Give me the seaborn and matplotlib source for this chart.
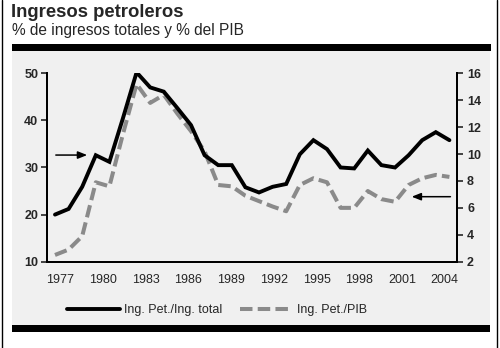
import numpy as np
import matplotlib
matplotlib.use("Agg")
import matplotlib.pyplot as plt
from matplotlib.lines import Line2D
from matplotlib.patches import Rectangle
import pandas as pd
import seaborn as sns

# ---- data -------------------------------------------------------------
years = list(range(1976, 2006))
ing_total = [20.0, 21.2, 25.9, 32.6, 31.2, 40.5, 50.2, 47.0, 46.1, 42.6,
             39.0, 32.6, 30.5, 30.5, 25.8, 24.7, 25.9, 26.5, 32.8, 35.8,
             33.9, 30.0, 29.8, 33.6, 30.5, 30.0, 32.6, 35.8, 37.5, 35.8]
ing_pib = [2.5, 2.9, 3.9, 7.9, 7.6, 11.5, 15.2, 13.8, 14.4, 13.0,
           11.7, 10.2, 7.7, 7.6, 6.9, 6.5, 6.1, 5.75, 7.7, 8.2,
           7.9, 6.0, 6.0, 7.25, 6.65, 6.45, 7.7, 8.2, 8.45, 8.3]
xtick_labels = [1977, 1980, 1983, 1986, 1989, 1992, 1995, 1998, 2001, 2004]
left_ticks = [10, 20, 30, 40, 50]
right_ticks = [2, 4, 6, 8, 10, 12, 14, 16]
title = "Ingresos petroleros"
subtitle = "% de ingresos totales y % del PIB"
label_total = "Ing. Pet./Ing. total"
label_pib = "Ing. Pet./PIB"

df = pd.DataFrame({"year": years, "total": ing_total, "pib": ing_pib})

# ---- style ------------------------------------------------------------
sns.set_style("white")
plt.rcParams["font.family"] = ["Liberation Sans", "DejaVu Sans"]

PANEL = "#f0f0f0"
GRAY = "#8a8a8a"

fig = plt.figure(figsize=(5.0, 3.48), dpi=100)
fig.patch.set_facecolor("white")

# background panel and bars
fig.patches.append(Rectangle((0.024, 0.066), 0.956, 0.787, transform=fig.transFigure,
                             facecolor=PANEL, edgecolor="none", zorder=-10))
fig.patches.append(Rectangle((0.024, 0.8534), 0.958, 0.0201, transform=fig.transFigure,
                             facecolor="black", edgecolor="none", zorder=-5))
fig.patches.append(Rectangle((0.024, 0.046), 0.956, 0.0201, transform=fig.transFigure,
                             facecolor="black", edgecolor="none", zorder=-5))
fig.add_artist(Line2D([0.004, 0.004], [0, 1], transform=fig.transFigure, color="black", lw=1))
fig.add_artist(Line2D([0.994, 0.994], [0, 1], transform=fig.transFigure, color="black", lw=1))

fig.text(0.022, 0.988, title, fontsize=13.3, fontweight="bold", va="top", ha="left")
fig.text(0.023, 0.935, subtitle, fontsize=11.2, va="top", ha="left")

ax = fig.add_axes([0.0946, 0.248, 0.82, 0.5414])
ax2 = ax.twinx()
ax.set_zorder(ax2.get_zorder() + 1)
ax.patch.set_visible(False)
ax2.patch.set_visible(False)

sns.lineplot(data=df, x="year", y="total", ax=ax, color="black", lw=2.8,
             solid_joinstyle="miter")
sns.lineplot(data=df, x="year", y="pib", ax=ax2, color=GRAY, lw=2.9,
             linestyle=(0, (3.1, 1.3)))

xlim = (1975.434, 2005.58)
ax.set_xlim(*xlim)
ax.set_ylim(10, 50)
ax2.set_ylim(2, 16)

# axes appearance
for a in (ax, ax2):
    for s in a.spines.values():
        s.set_linewidth(1.4)
        s.set_color("black")
    a.spines["top"].set_visible(False)
    a.set_xlabel("")
    a.set_ylabel("")

ax.set_yticks(left_ticks)
ax.set_yticklabels([str(t) for t in left_ticks], fontweight="bold", fontsize=9)
ax2.set_yticks(right_ticks)
ax2.set_yticklabels([str(t) for t in right_ticks], fontweight="bold", fontsize=9)
ax.tick_params(axis="y", direction="out", length=4, width=1.2, pad=2.5)
ax2.tick_params(axis="y", direction="out", length=4, width=1.2, pad=3)

label_pos = np.linspace(1976.39, 2004.65, len(xtick_labels))
ax.set_xticks(label_pos)
ax.set_xticklabels([str(y) for y in xtick_labels], fontsize=9)
ax.set_xticks(np.linspace(xlim[0], xlim[1], 31), minor=True)
ax.tick_params(axis="x", which="major", length=0, pad=9)
ax.tick_params(axis="x", which="minor", direction="out", length=3.5, width=1.2)
ax2.tick_params(axis="x", which="both", length=0)

# arrows
ax.annotate("", xy=(0.104, 0.566), xytext=(0.014, 0.566), xycoords="axes fraction",
            arrowprops=dict(arrowstyle="-|>,head_length=0.55,head_width=0.22",
                            color="black", lw=1.1))
ax.annotate("", xy=(0.882, 0.345), xytext=(0.99, 0.345), xycoords="axes fraction",
            arrowprops=dict(arrowstyle="-|>,head_length=0.55,head_width=0.22",
                            color="black", lw=1.1))

# legend
handles = [Line2D([], [], color="black", lw=2.8),
           Line2D([], [], color=GRAY, lw=2.9, linestyle=(0, (3.1, 1.3)))]
fig.legend(handles, [label_total, label_pib], loc="center", ncol=2,
           bbox_to_anchor=(0.434, 0.109), frameon=False, fontsize=9,
           handlelength=4.2, handletextpad=0.35, columnspacing=1.4)

fig.savefig("out.png", dpi=100, facecolor="white")
